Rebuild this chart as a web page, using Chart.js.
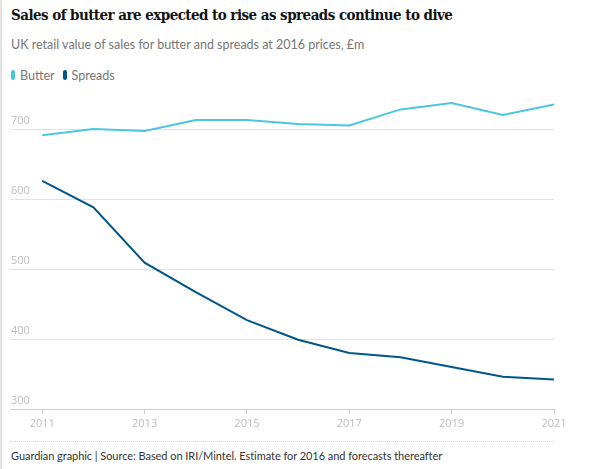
<!DOCTYPE html>
<html>
<head>
<meta charset="utf-8">
<script src="https://cdn.jsdelivr.net/npm/chart.js@4/dist/chart.umd.min.js"></script>
<style>
  body { margin: 0; background: #fff; width: 600px; height: 469px; position: relative; overflow: hidden; }
  .edge { position: absolute; left: 0; top: 0; width: 2px; height: 469px; background: #e3e3e3; }
  h1 { position: absolute; left: 11px; top: 6px; margin: 0; font: bold 15px "DejaVu Serif Condensed", "DejaVu Serif", serif; letter-spacing: -0.55px; color: #121212; white-space: nowrap; }
  .sub { position: absolute; left: 11px; top: 37px; font: 12.5px Lato, sans-serif; color: #767676; white-space: nowrap; }
  .legend { position: absolute; left: 11px; top: 66px; font: 12.5px Lato, sans-serif; color: #767676; white-space: nowrap; }
  .legend span { display: inline-block; vertical-align: middle; }
  .sw { width: 4px; height: 10px; border-radius: 2px; margin-right: 5px; }
  .item { margin-right: 8px; }
  .rule { position: absolute; left: 10px; top: 441px; width: 544px; border-top: 1px dotted #d6d6d6; }
  .foot { position: absolute; left: 11px; top: 449px; font: 11px Lato, sans-serif; letter-spacing: -0.05px; color: #333; white-space: nowrap; }
  #wrap { position: absolute; left: 10px; top: 84px; width: 590px; height: 350px; }
</style>
</head>
<body>
<div class="edge"></div>
<h1>Sales of butter are expected to rise as spreads continue to dive</h1>
<div class="sub">UK retail value of sales for butter and spreads at 2016 prices, £m</div>
<div class="legend" id="legend"></div>
<div id="wrap"><canvas id="chart"></canvas></div>
<div class="rule"></div>
<div class="foot">Guardian graphic | Source: Based on IRI/Mintel. Estimate for 2016 and forecasts thereafter</div>
<script>
const years = [2011, 2012, 2013, 2014, 2015, 2016, 2017, 2018, 2019, 2020, 2021];
const butter = [691, 700, 697, 713, 713, 707, 705, 728, 737, 720, 735];
const spreads = [626, 588, 509, 467, 427, 399, 380, 374, 360, 346, 342];
const yearTicks = [2011, 2013, 2015, 2017, 2019, 2021];
const valueTicks = [300, 400, 500, 600, 700];

const seriesNames = ['Butter', 'Spreads'];
const seriesColors = ['#4bc6df', '#005689'];

// legend
const legendEl = document.getElementById('legend');
seriesNames.forEach((name, i) => {
    legendEl.innerHTML += '<span class="item"><span class="sw" style="background:' + seriesColors[i] + '"></span><span>' + name + '</span></span>';
});

function toPoints(values) {
    return years.map((yr, i) => ({ x: yr, y: values[i] }));
}

const tickFont = { family: 'Open Sans', size: 11 };

new Chart(document.getElementById('chart'), {
    type: 'line',
    data: {
        datasets: [
            { label: 'Butter', data: toPoints(butter), borderColor: seriesColors[0], borderWidth: 2, pointRadius: 0, tension: 0 },
            { label: 'Spreads', data: toPoints(spreads), borderColor: seriesColors[1], borderWidth: 2, pointRadius: 0, tension: 0 }
        ]
    },
    options: {
        responsive: true,
        maintainAspectRatio: false,
        animation: false,
        layout: { padding: { left: 0, top: 10, right: 46, bottom: 0 } },
        plugins: { legend: { display: false }, tooltip: { enabled: false } },
        scales: {
            x: {
                type: 'linear',
                min: 2010.37,
                max: 2021,
                afterBuildTicks: scale => { scale.ticks = yearTicks.map(v => ({ value: v })); },
                afterFit: scale => { scale.height = 25; },
                border: { display: true, color: '#cccccc', width: 1 },
                grid: { drawOnChartArea: false, drawTicks: true, tickLength: 5, color: '#cccccc' },
                ticks: { color: '#bdbdbd', font: tickFont, padding: 3, maxRotation: 0, callback: v => String(v) }
            },
            y: {
                min: 300,
                max: 750,
                afterBuildTicks: scale => { scale.ticks = valueTicks.map(v => ({ value: v })); },
                afterFit: scale => { scale.width = 0; },
                border: { display: false },
                grid: { drawTicks: false, color: '#e2e2e2', borderDash: [1, 1] },
                ticks: { mirror: true, padding: 1, labelOffset: -8, color: '#bdbdbd', font: tickFont }
            }
        }
    }
});
</script>
</body>
</html>
